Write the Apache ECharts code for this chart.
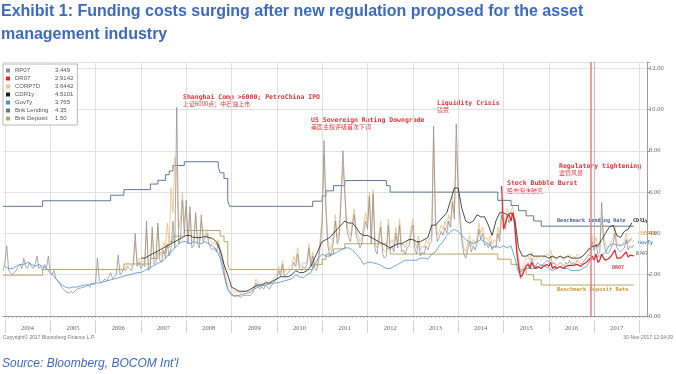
<!DOCTYPE html>
<html><head><meta charset="utf-8">
<script src="https://cdn.jsdelivr.net/npm/echarts@6/dist/echarts.min.js"></script>
<style>html,body{margin:0;padding:0;background:#fff}#c{width:676px;height:374px}</style>
</head><body><div id="c"></div>
<script>
const title1 = 'Exhibit 1: Funding costs surging after new regulation proposed for the asset';
const title2 = 'management industry';
const sourceText = "Source: Bloomberg, BOCOM Int'l";
const yTickValues = [0, 2, 4, 6, 8, 10, 12];
const legendNames = ['RP07', 'DR07', 'CORP7D', 'CDR1y', 'GovTy', 'Bnk Lending', 'Bnk Deposit'];
const legendValues = ['3.449', '2.9142', '3.6442', '4.5101', '3.765', '4.35', '1.50'];
const axisStart = '2003-12-16', axisEnd = '2018-03-01';

// half-monthly (1st / 16th) readings
const rp07Start = '2003-12-16';
const rp07 = [2.2,
 2.6, 3.4, 2.2, 2.1, 2.0, 2.1, 2.2, 2.4, 2.5, 2.3, 2.8, 2.4,
 2.3, 2.6, 2.4, 2.3, 2.5, 2.9, 2.3, 2.4, 2.2, 2.5, 2.3, 2.9,
 2.1, 2.0, 2.2, 1.8, 1.7, 1.6, 1.4, 1.3, 1.2, 1.15, 1.1, 1.2,
 1.1, 1.15, 1.3, 1.25, 1.35, 1.3, 1.4, 1.35, 1.5, 1.4, 1.6, 1.5,
 1.6, 2.8, 1.7, 1.6, 1.6, 1.8, 1.7, 1.9, 2.1, 1.8, 1.9, 2.0,
 2.95, 2.0, 2.1, 2.3, 2.2, 2.4, 2.3, 2.2, 2.5, 4.0, 2.4, 2.6,
 2.3, 2.5, 2.4, 4.6, 2.2, 2.3, 4.3, 2.5, 2.6, 4.5, 2.7, 2.6,
 3.2, 2.8, 3.5, 2.9, 3.3, 4.6, 3.3, 10.1, 3.5, 3.8, 5.6, 4.0,
 5.6, 3.5, 5.3, 3.3, 3.4, 5.0, 3.5, 3.3, 4.9, 3.6, 3.8, 4.0,
 3.5, 3.3, 3.2, 3.3, 3.1, 3.5, 2.9, 2.7, 2.2, 1.6, 1.3, 1.2,
 1.1, 1.0, 0.95, 1.0, 0.95, 0.9, 1.0, 0.95, 1.0, 1.05, 1.0, 1.1,
 1.3, 1.6, 1.4, 1.3, 1.4, 1.3, 1.5, 1.4, 1.3, 1.45, 1.4, 1.7,
 1.8, 2.2, 1.9, 2.5, 1.9, 2.0, 2.1, 2.2, 2.3, 2.6, 2.4, 3.0,
 2.3, 2.2, 2.4, 2.3, 2.5, 3.3, 2.4, 2.9, 2.3, 2.2, 2.6, 3.4,
 4.5, 8.5, 5.1, 3.4, 2.9, 3.1, 3.6, 4.6, 3.5, 3.8, 5.6, 8.0,
 5.9, 4.2, 3.8, 3.6, 4.3, 4.9, 3.9, 3.6, 3.3, 3.5, 4.1, 4.6,
 4.2, 5.8, 3.5, 5.9, 3.2, 3.0, 3.6, 4.3, 3.0, 2.8, 2.9, 4.4,
 3.2, 3.4, 3.1, 4.0, 3.3, 4.4, 3.1, 3.2, 3.0, 3.3, 3.4, 3.9,
 4.4, 3.3, 3.0, 3.6, 2.9, 3.1, 3.0, 3.4, 3.2, 3.5, 3.6, 9.2,
 4.5, 3.6, 3.8, 4.1, 3.9, 4.3, 4.0, 4.6, 4.3, 5.5, 4.7, 9.3,
 6.1, 4.6, 3.6, 3.0, 2.8, 3.2, 3.6, 3.1, 3.4, 3.2, 3.5, 4.2,
 3.7, 4.0, 3.4, 3.5, 3.3, 3.6, 3.2, 3.4, 3.3, 4.0, 3.6, 4.9,
 4.6, 4.2, 4.9, 4.5, 4.8, 5.0, 4.3, 3.2, 2.6, 1.8, 1.9, 2.3,
 2.5, 2.6, 2.4, 2.8, 2.5, 2.4, 2.6, 2.5, 2.4, 2.5, 2.6, 2.7,
 2.6, 2.9, 2.5, 2.6, 2.4, 2.5, 2.6, 2.5, 2.4, 2.6, 2.5, 2.7,
 2.5, 2.6, 2.5, 2.7, 2.6, 2.5, 2.6, 2.7, 2.8, 3.0, 2.9, 3.6,
 3.2, 3.5, 3.0, 3.1, 5.5, 3.6, 3.2, 3.0, 3.1, 3.3, 3.5, 4.0,
 3.3, 3.2, 3.1, 3.2, 3.3, 3.7, 3.2, 3.4, 3.3, 3.449];

const corp7dStart = '2006-07-01';
const corp7d = [
 2.2, 2.4, 2.3, 2.2, 2.4, 2.6, 2.5, 2.4, 2.6, 3.6, 2.6, 2.8,
 2.5, 2.7, 2.6, 4.2, 2.4, 2.6, 4.0, 2.8, 3.0, 4.3, 3.0, 2.9,
 3.6, 3.3, 4.5, 3.4, 6.2, 5.0, 7.7, 7.0, 4.2, 4.7, 6.0, 4.6,
 5.3, 3.9, 5.0, 3.6, 3.7, 4.8, 3.8, 3.6, 4.6, 3.9, 4.0, 4.2,
 3.8, 3.6, 3.5, 3.6, 3.4, 3.7, 3.2, 3.0, 2.5, 1.9, 1.5, 1.4,
 1.3, 1.2, 1.15, 1.2, 1.15, 1.1, 1.2, 1.15, 1.2, 1.25, 1.2, 1.3,
 1.5, 1.8, 1.6, 1.5, 1.6, 1.5, 1.7, 1.6, 1.5, 1.65, 1.6, 1.9,
 2.0, 2.4, 2.1, 2.7, 2.1, 2.2, 2.3, 2.4, 2.5, 2.9, 2.6, 3.3,
 2.5, 2.4, 2.6, 2.5, 2.7, 3.5, 2.6, 3.1, 2.5, 2.4, 2.9, 3.8,
 4.8, 7.8, 5.4, 3.7, 3.2, 3.4, 3.9, 4.9, 3.8, 4.1, 5.9, 7.2,
 6.1, 4.5, 4.1, 3.9, 4.6, 5.2, 4.2, 3.9, 3.6, 3.8, 4.4, 5.0,
 4.5, 6.0, 3.8, 6.1, 3.5, 3.3, 3.9, 4.6, 3.3, 3.1, 3.2, 4.7,
 3.5, 3.7, 3.4, 4.3, 3.6, 4.7, 3.4, 3.5, 3.3, 3.6, 3.7, 4.2,
 4.7, 3.6, 3.3, 3.9, 3.2, 3.4, 3.3, 3.7, 3.5, 3.8, 3.9, 8.5,
 4.8, 3.9, 4.1, 4.4, 4.2, 4.6, 4.3, 4.9, 4.6, 5.8, 5.0, 8.0,
 6.4, 4.9, 3.9, 3.3, 3.1, 3.5, 3.9, 3.4, 3.7, 3.5, 3.8, 4.5,
 4.0, 4.3, 3.7, 3.8, 3.6, 3.9, 3.5, 3.7, 3.6, 4.3, 3.9, 5.2,
 4.9, 4.5, 5.2, 4.8, 5.1, 5.3, 4.6, 3.5, 2.9, 2.1, 2.2, 2.6,
 2.8, 2.9, 2.7, 3.1, 2.8, 2.7, 2.9, 2.8, 2.7, 2.8, 2.9, 3.0,
 2.9, 3.2, 2.8, 2.9, 2.7, 2.8, 2.9, 2.8, 2.7, 2.9, 2.8, 3.0,
 2.8, 2.9, 2.8, 3.0, 2.9, 2.8, 2.9, 3.0, 3.1, 3.3, 3.2, 3.9,
 3.5, 3.8, 3.3, 3.4, 4.6, 3.9, 3.5, 3.3, 3.4, 3.6, 3.8, 4.3,
 3.6, 3.5, 3.4, 3.5, 3.6, 4.0, 3.5, 3.7, 3.6, 3.6442];

const dr07Start = '2014-12-16';
const dr07 = [6.3,
 4.2, 4.5, 4.8, 4.9, 4.6, 5.0, 4.4, 3.1, 2.4, 1.9, 2.0, 2.2,
 2.4, 2.5, 2.3, 2.6, 2.4, 2.3, 2.4, 2.35, 2.3, 2.4, 2.45, 2.5,
 2.4, 2.6, 2.3, 2.4, 2.3, 2.35, 2.4, 2.35, 2.3, 2.4, 2.35, 2.45,
 2.4, 2.45, 2.4, 2.5, 2.45, 2.4, 2.5, 2.55, 2.6, 2.7, 2.65, 2.9,
 2.7, 3.0, 2.6, 2.7, 3.0, 2.8, 2.7, 2.75, 2.8, 2.9, 2.85, 3.2,
 2.8, 2.85, 2.8, 2.9, 2.9, 3.1, 2.85, 2.95, 2.9, 2.9142];

// monthly readings
const cdr1yStart = '2007-01';
const cdr1y = [
 2.8, 2.8, 2.9, 3.0, 3.1, 3.2, 3.3, 3.4, 3.5, 3.6, 3.7, 3.8,
 3.9, 3.9, 3.8, 3.8, 3.8, 3.85, 3.8, 3.75, 3.6, 3.2, 2.5, 2.0,
 1.4, 1.3, 1.2, 1.2, 1.2, 1.3, 1.4, 1.5, 1.5, 1.6, 1.6, 1.7,
 1.8, 1.9, 1.9, 1.9, 2.0, 2.2, 2.1, 2.1, 2.2, 2.4, 2.8, 3.2,
 3.6, 3.7, 3.8, 4.0, 4.2, 4.4, 4.6, 4.5, 4.5, 4.3, 4.0, 3.9,
 3.9, 3.8, 3.7, 3.6, 3.5, 3.4, 3.3, 3.4, 3.5, 3.5, 3.6, 3.7,
 3.7, 3.6, 3.6, 3.7, 3.8, 4.4, 4.4, 4.6, 4.8, 5.0, 5.6, 6.2,
 6.2, 5.2, 4.6, 4.5, 4.6, 4.9, 4.8, 4.8, 4.4, 3.9, 4.6, 5.0,
 5.0, 4.9, 5.0, 4.7, 3.3, 2.9, 2.9, 3.0, 2.9, 2.9, 2.9, 2.9,
 2.8, 2.9, 2.8, 2.9, 2.8, 2.9, 2.8, 2.8, 2.8, 2.9, 3.1, 3.3,
 3.4, 3.4, 3.7, 4.0, 4.3, 4.4, 3.9, 3.8, 4.1, 4.2, 4.5101];

const govtyStart = '2004-01';
const govty = [
 2.4, 2.3, 2.3, 2.4, 2.5, 2.5, 2.6, 2.5, 2.4, 2.5, 2.4, 2.3,
 2.1, 1.9, 1.7, 1.5, 1.4, 1.35, 1.4, 1.4, 1.45, 1.5, 1.5, 1.55,
 1.6, 1.6, 1.65, 1.7, 1.75, 1.8, 1.85, 1.9, 1.95, 2.0, 2.05, 2.1,
 2.1, 2.2, 2.3, 2.4, 2.5, 2.6, 2.7, 2.9, 3.1, 3.3, 3.5, 3.6,
 3.6, 3.5, 3.6, 3.55, 3.5, 3.6, 3.5, 3.4, 3.2, 2.8, 2.0, 1.3,
 1.0, 0.95, 1.0, 1.05, 1.1, 1.15, 1.3, 1.4, 1.45, 1.5, 1.55, 1.6,
 1.6, 1.65, 1.7, 1.75, 1.8, 2.0, 1.9, 1.85, 2.0, 2.1, 2.5, 2.8,
 3.0, 2.9, 2.9, 3.0, 3.1, 3.2, 3.3, 3.3, 3.2, 3.0, 2.8, 2.5,
 2.6, 2.6, 2.55, 2.5, 2.4, 2.3, 2.3, 2.4, 2.5, 2.6, 2.7, 2.7,
 2.7, 2.7, 2.8, 2.8, 2.75, 3.0, 3.1, 3.4, 3.6, 3.9, 4.1, 4.2,
 4.1, 3.9, 3.7, 3.6, 3.5, 3.6, 3.7, 3.6, 3.5, 3.3, 3.4, 3.3,
 3.4, 3.3, 3.4, 2.8, 2.1, 2.2, 2.3, 2.3, 2.3, 2.3, 2.5, 2.4,
 2.3, 2.2, 2.3, 2.4, 2.3, 2.3, 2.2, 2.2, 2.2, 2.3, 2.4, 2.7,
 2.8, 2.9, 2.9, 3.1, 3.4, 3.5, 3.45, 3.4, 3.5, 3.6, 3.765];

// benchmark rates: change dates and levels
const lendingDates = ['2003-12-16','2004-11-01','2006-05-01','2006-08-16','2007-03-16','2007-05-16','2007-07-16','2007-08-16','2007-09-16','2007-12-16','2008-09-16','2008-10-01','2008-11-01','2008-12-01','2008-12-16','2010-10-16','2011-01-01','2011-02-01','2011-04-01','2011-07-01','2012-06-01','2012-07-01','2014-11-16','2015-03-01','2015-05-01','2015-07-01','2015-09-01','2015-11-01','2017-11-16'];
const lendingRates = [5.31,5.58,5.85,6.12,6.39,6.57,6.84,7.02,7.29,7.47,7.20,6.93,6.66,5.58,5.31,5.56,5.81,6.06,6.31,6.56,6.31,6.00,5.60,5.35,5.10,4.85,4.60,4.35,4.35];
const depositDates = ['2003-12-16','2004-11-01','2006-08-16','2007-03-16','2007-05-16','2007-07-16','2007-08-16','2007-09-16','2007-12-16','2008-10-01','2008-11-01','2008-12-01','2008-12-16','2010-10-16','2011-01-01','2011-02-01','2011-04-01','2011-07-01','2012-06-01','2012-07-01','2014-11-16','2015-03-01','2015-05-01','2015-07-01','2015-09-01','2015-11-01','2017-11-16'];
const depositRates = [1.98,2.25,2.52,2.79,3.06,3.33,3.60,3.87,4.14,3.87,3.60,2.52,2.25,2.50,2.75,3.00,3.25,3.50,3.25,3.00,2.75,2.50,2.25,2.00,1.75,1.50,1.50];

const regulationDates = ['2016-12-01', '2017-01-01'];

// ---- build half-month category axis
const cats = [];
for (let y = 2003; y <= 2018; y++) for (let m = 1; m <= 12; m++) for (const d of ['01', '16']) {
  const s = y + '-' + String(m).padStart(2, '0') + '-' + d;
  if (s >= axisStart && s <= axisEnd) cats.push(s);
}
function halfSeries(start, vals) {
  const i0 = cats.indexOf(start);
  return vals.map((v, i) => [cats[i0 + i], v]);
}
function monthSeries(start, vals) {
  let y = +start.slice(0, 4), m = +start.slice(5, 7);
  return vals.map(v => {
    const k = y + '-' + String(m).padStart(2, '0') + '-01';
    m++; if (m > 12) { m = 1; y++; }
    return [k, v];
  });
}
const pairs = (d, v) => d.map((x, i) => [x, v[i]]);

const colors = {
  'RP07': '#8d8d8d', 'DR07': '#e4262a', 'CORP7D': '#f1c38c', 'CDR1y': '#1e1e1e',
  'GovTy': '#4b93d6', 'Bnk Lending': '#5f7898', 'Bnk Deposit': '#b9a865'
};
function line(name, data, extra) {
  return Object.assign({
    name, type: 'line', data, showSymbol: false, symbol: 'none', silent: true,
    lineStyle: { width: 0.8, color: colors[name] }, itemStyle: { color: colors[name] }
  }, extra || {});
}

const series = [
  line('Bnk Lending', pairs(lendingDates, lendingRates), { step: 'end', lineStyle: { width: 1, color: colors['Bnk Lending'] } }),
  line('Bnk Deposit', pairs(depositDates, depositRates), { step: 'end', lineStyle: { width: 1, color: colors['Bnk Deposit'] } }),
  line('CORP7D', halfSeries(corp7dStart, corp7d), { lineStyle: { width: 0.9, color: colors['CORP7D'] } }),
  line('RP07', halfSeries(rp07Start, rp07), { lineStyle: { width: 0.75, color: colors['RP07'] } }),
  line('GovTy', monthSeries(govtyStart, govty)),
  line('CDR1y', monthSeries(cdr1yStart, cdr1y)),
  line('DR07', halfSeries(dr07Start, dr07), {
    lineStyle: { width: 1.2, color: colors['DR07'] },
    markLine: {
      silent: true, symbol: 'none', label: { show: false },
      lineStyle: { color: '#e9777a', type: 'solid', width: 1.3 },
      data: regulationDates.map((d, i) => ({ xAxis: d, lineStyle: { width: i === 0 ? 1.6 : 0.8, opacity: i === 0 ? 0.9 : 0.6 } }))
    }
  })
];

const redFont = 'bold 6.5px "DejaVu Sans Mono"';
const cjkFont = '6px "Noto Sans CJK SC"';
function txt(x, y, text, fill, font, align) {
  return { type: 'text', x, y, silent: true, style: { text, fill, font, align: align || 'left', verticalAlign: 'middle', textAlign: align || 'left', textVerticalAlign: 'middle' } };
}
const graphics = [
  txt(183, 97, 'Shanghai Comp >6000; PetroChina IPO', '#e5363b', redFont),
  txt(183, 104, '上证6000点；中石油上市', '#e5363b', cjkFont),
  txt(311, 120, 'US Sovereign Rating Downgrade', '#e5363b', redFont),
  txt(311, 127, '美国主权评级首次下调', '#e5363b', cjkFont),
  txt(437, 103, 'Liquidity Crisis', '#e5363b', redFont),
  txt(437, 110, '钱荒', '#e5363b', cjkFont),
  txt(507, 183, 'Stock Bubble Burst', '#e5363b', redFont),
  txt(507, 191, '股市泡沫破灭', '#e5363b', cjkFont),
  txt(559, 166, 'Regulatory tightening', '#e5363b', redFont),
  txt(559, 173, '监管风暴', '#e5363b', cjkFont),
  txt(557, 221, 'Benchmark Lending Rate', '#3d5f9c', 'bold 5.2px "DejaVu Sans Mono"'),
  txt(557, 290, 'Benchmark Deposit Rate', '#c49b3a', 'bold 5.4px "DejaVu Sans Mono"'),
  txt(633, 221, 'CDR1y', '#222', 'bold 5px "DejaVu Sans Mono"'),
  txt(638, 234, 'CORP7D', '#e79a2a', 'bold 5px "DejaVu Sans Mono"'),
  txt(638, 243, 'GovTy', '#3f86cc', 'bold 5px "DejaVu Sans Mono"'),
  txt(636, 254, 'RP07', '#777', 'bold 5px "DejaVu Sans Mono"'),
  txt(612, 268, 'DR07', '#e5363b', 'bold 5px "DejaVu Sans Mono"'),
  txt(3, 338, 'Copyright\u00a9 2017 Bloomberg Finance L.P.', '#777', '5px "Liberation Sans"'),
  txt(673, 338, '30-Nov-2017 12:04:09', '#777', '5px "Liberation Sans"', 'right'),
  txt(2, 364, sourceText, '#3b6bc0', 'italic 12px "Liberation Sans"')
];

const chart = echarts.init(document.getElementById('c'), null, { renderer: 'canvas' });
chart.setOption({
  animation: false,
  backgroundColor: '#fff',
  title: {
    text: title1 + '\n' + title2, left: 0, top: 0, padding: [0, 0, 0, 1],
    textStyle: { fontFamily: 'Liberation Sans', fontSize: 16, fontWeight: 'bold', color: '#3b6bc0', lineHeight: 23 }
  },
  legend: {
    data: legendNames.map(n => ({ name: n, icon: 'rect' })),
    orient: 'vertical', left: 3, top: 64, itemWidth: 4, itemHeight: 4, itemGap: 1,
    backgroundColor: '#fff', borderColor: '#a8a8a8', borderWidth: 0.8, padding: [3, 4, 3, 3],
    selectedMode: false,
    formatter: n => '{n|' + n + '}{v|' + legendValues[legendNames.indexOf(n)] + '}',
    textStyle: { fontSize: 6, color: '#555', fontFamily: 'Liberation Sans', lineHeight: 7,
      rich: { n: { width: 40, fontSize: 6, lineHeight: 7, color: '#555' }, v: { fontSize: 6, lineHeight: 7, color: '#555' } } }
  },
  grid: { left: 3, right: 29, top: 62, bottom: 58, containLabel: false },
  xAxis: [{
    type: 'category', data: cats, boundaryGap: false, offset: 4,
    axisLine: { show: true, lineStyle: { color: '#9a9a9a', width: 1 } },
    axisTick: { show: true, interval: (i, v) => v.endsWith('-01'), length: 2, lineStyle: { color: '#9a9a9a', width: 0.6 } },
    axisLabel: { show: true, interval: (i, v) => v.slice(5) === '07-01' && v < '2018', formatter: v => v.slice(0, 4),
      fontSize: 6.5, color: '#666', margin: 5, fontFamily: 'Liberation Serif' },
    splitLine: { show: true, interval: (i, v) => v.slice(5) === '01-01', lineStyle: { color: '#e2e2e2', width: 1 } }
  }, {
    type: 'category', data: cats, boundaryGap: false, offset: 4, position: 'bottom',
    axisLine: { show: false },
    axisTick: { show: true, interval: (i, v) => v.slice(5) === '01-01', length: 13, lineStyle: { color: '#c8c8c8', width: 0.8 } },
    axisLabel: { show: false }, splitLine: { show: false }
  }],
  yAxis: {
    type: 'value', position: 'right', min: 0, max: 12.3, interval: 2,
    axisLine: { show: true, lineStyle: { color: '#a0a0a0', width: 1 } },
    axisTick: { show: true, length: 3, lineStyle: { color: '#a0a0a0' } },
    axisLabel: { fontSize: 6.5, color: '#666', margin: 2, fontFamily: 'Liberation Serif',
      formatter: v => yTickValues.indexOf(v) >= 0 ? v.toFixed(2) : '' },
    splitLine: { show: true, lineStyle: { color: '#e2e2e2', width: 1 } }
  },
  series,
  graphic: graphics
});
</script></body></html>
